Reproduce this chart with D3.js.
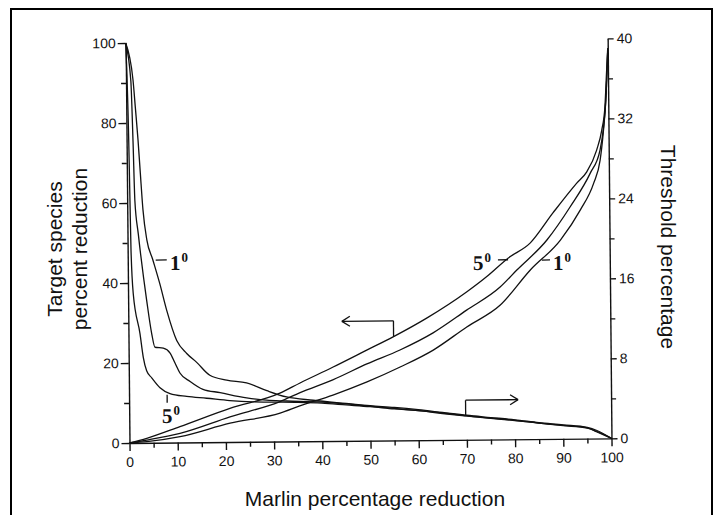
<!DOCTYPE html>
<meta charset="UTF-8">
<script src="https://cdnjs.cloudflare.com/ajax/libs/d3/7.4.4/d3.min.js"></script>
<style>
    body { margin: 0; background: #fff; }
    text { fill: #111; }
</style>
<svg id="chart" width="713" height="515"></svg>
<script>
    // ---- data ----
    const xMajor = [0, 10, 20, 30, 40, 50, 60, 70, 80, 90, 100];
    const xMinor = [5, 15, 25, 35, 45, 55, 65, 75, 85, 95];
    const leftMajor = [0, 20, 40, 60, 80, 100];
    const leftMinor = [10, 30, 50, 70, 90];
    const rightMajor = [0, 8, 16, 24, 32, 40];
    const rightMinor = [4, 12, 20, 28, 36];

    // target species percent reduction (left axis), [marlin %, value]
    const target5 = [[0, 0], [3.6, 1.13], [10.5, 3.96], [20.9, 8.4], [31.3, 12.1], [35.5, 14.6], [42.4, 18.5],
        [49.5, 22.7], [54.9, 25.9], [61.9, 30.5], [70.3, 37], [74.4, 40.7], [78.9, 45.3], [83.5, 49],
        [88.3, 56.5], [93.3, 63.9], [95.4, 66.7], [97.5, 72.1], [98.6, 77.1], [99.3, 82.9], [99.7, 91.4], [100, 97.6]];
    const targetMid = [[0, 0], [3.6, 0.7], [10.5, 2.3], [20.9, 6.3], [31.3, 10], [35.5, 12.2], [42.3, 15.3],
        [49.4, 19.2], [56.3, 22.6], [63.2, 26.8], [70.2, 32.4], [77.2, 38.1], [80.7, 42.3], [87, 49.75],
        [91.9, 58], [96.1, 66.3], [98.2, 72.1], [98.9, 77.1], [99.5, 84.6], [100, 97.2]];
    const target1 = [[0, 0], [3.6, 0.28], [10.5, 1.45], [20.9, 4.7], [31.3, 7.1], [35.4, 8.85], [42.3, 11.5],
        [49.4, 14.7], [56.3, 18.35], [63.2, 22.5], [70.2, 28.2], [77.2, 33.6], [83.5, 42.3], [89.8, 49.7],
        [94, 57.2], [96.8, 63.8], [98.2, 69.6], [98.9, 76.4], [99.5, 84.6], [100, 97.1]];

    // threshold percentage (right axis), [marlin %, value]
    const thresh1 = [[0, 40], [1.45, 36.3], [1.87, 33.6], [2.37, 30.3], [2.78, 27], [3.26, 23.3], [4, 20.3],
        [5.2, 18.3], [6.6, 15.9], [8, 13.2], [10, 10.2], [12.05, 8.9], [14.1, 8], [16.8, 6.7], [20.3, 6.2],
        [24.4, 5.9], [28.6, 5.1], [32.7, 4.45], [38.2, 4.1], [45, 3.75], [50, 3.5], [55, 3.3], [60, 3.05],
        [65, 2.75], [70, 2.45], [75, 2.2], [80, 1.95], [85, 1.65], [90, 1.4], [95, 1.12], [97, 0.8], [100, 0]];
    const threshMid = [[0, 40], [1, 36.2], [1.33, 30.2], [1.6, 24.2], [2.24, 20.9], [3.86, 14.2], [4.83, 10.9],
        [5.48, 9.55], [7.2, 9.45], [8.6, 8.95], [9.6, 7.95], [10.6, 6.95], [12.7, 6.1], [15.35, 5.3],
        [18.9, 4.95], [24.4, 4.4], [28.5, 4.15], [32.7, 4.05], [40, 3.9], [45, 3.7], [50, 3.45], [55, 3.2],
        [60, 2.95], [65, 2.7], [70, 2.4], [75, 2.15], [80, 1.9], [85, 1.6], [90, 1.35], [95, 1.08], [97, 0.65], [100, 0]];
    const thresh5 = [[0, 40], [0.44, 30.3], [0.58, 24.2], [0.7, 19.2], [1.08, 14.9], [2.4, 10.9], [3.03, 8.55],
        [3.7, 7.2], [4.74, 6.5], [6.44, 5.5], [8.5, 4.9], [11.96, 4.6], [16.1, 4.4], [20.9, 4.15], [25.7, 4.0],
        [30, 3.95], [35, 3.9], [40, 3.8], [45, 3.6], [50, 3.4], [55, 3.15], [60, 2.95], [65, 2.65], [70, 2.38],
        [75, 2.12], [80, 1.88], [85, 1.6], [90, 1.32], [95, 1.05], [97.5, 0.6], [100, 0]];

    // ---- layout ----
    let svg = d3.select("#chart");
    let pLeft = 129.5, pRight = 611.5, pTop = 43, pBottom = 443;
    let tickFont = "'Liberation Sans Narrow', 'Arial Narrow', 'Liberation Sans', Arial, sans-serif";
    let titleFont = "'Liberation Sans', Arial, sans-serif";
    let degFont = "'Liberation Serif', 'Times New Roman', serif";

    // page border (open at the bottom)
    svg.append("path")
        .attr("d", "M11,515V9H712V515")
        .style("fill", "none")
        .style("stroke", "#000")
        .style("stroke-width", 2);

    let x = d3.scaleLinear().domain([0, 100]).range([pLeft, pRight]);
    let yL = d3.scaleLinear().domain([0, 100]).range([pBottom, pTop]);
    let yR = d3.scaleLinear().domain([0, 40]).range([pBottom, pTop]);

    // the scanned figure is tilted a little
    let plot = svg.append("g").attr("transform", "rotate(-0.55," + pLeft + "," + pBottom + ")");

    function styleAxis(g) {
        g.selectAll("path, line").style("stroke", "#111").style("stroke-width", 1.4);
        g.selectAll("text").style("font-family", tickFont).style("font-size", "14px").style("fill", "#111");
    }

    plot.append("g").attr("transform", "translate(0," + pBottom + ")")
        .call(d3.axisBottom(x).tickValues(xMajor).tickSize(8).tickSizeOuter(0).tickPadding(6).tickFormat(d3.format("d")))
        .call(styleAxis);
    plot.append("g").attr("transform", "translate(0," + pBottom + ")")
        .call(d3.axisBottom(x).tickValues(xMinor).tickSize(5).tickFormat(""))
        .call(g => g.select(".domain").remove()).call(styleAxis);

    plot.append("g").attr("transform", "translate(" + pLeft + ",0)")
        .call(d3.axisLeft(yL).tickValues(leftMajor).tickSize(8).tickSizeOuter(0).tickPadding(2))
        .call(styleAxis);
    plot.append("g").attr("transform", "translate(" + pLeft + ",0)")
        .call(d3.axisLeft(yL).tickValues(leftMinor).tickSize(5).tickFormat(""))
        .call(g => g.select(".domain").remove()).call(styleAxis);

    plot.append("g").attr("transform", "translate(" + pRight + ",0)")
        .call(d3.axisRight(yR).tickValues(rightMajor).tickSize(6).tickSizeOuter(0).tickPadding(3))
        .call(styleAxis);
    plot.append("g").attr("transform", "translate(" + pRight + ",0)")
        .call(d3.axisRight(yR).tickValues(rightMinor).tickSize(5).tickFormat(""))
        .call(g => g.select(".domain").remove()).call(styleAxis);

    // curves
    let lineL = d3.line().x(d => x(d[0])).y(d => yL(d[1])).curve(d3.curveMonotoneX);
    let lineR = d3.line().x(d => x(d[0])).y(d => yR(d[1])).curve(d3.curveMonotoneX);

    [target5, targetMid, target1].forEach(function (s) {
        plot.append("path").attr("d", lineL(s))
            .style("fill", "none").style("stroke", "#111").style("stroke-width", 1.3);
    });
    [thresh1, threshMid, thresh5].forEach(function (s) {
        plot.append("path").attr("d", lineR(s))
            .style("fill", "none").style("stroke", "#111").style("stroke-width", 1.3);
    });

    function seg(x1, y1, x2, y2) {
        plot.append("line")
            .attr("x1", x1).attr("y1", y1).attr("x2", x2).attr("y2", y2)
            .style("stroke", "#111").style("stroke-width", 1.3);
    }

    // pointer arrows: which axis each bundle belongs to
    let ay = yL(29.9);
    seg(x(44.3), ay, x(55), ay);
    seg(x(55), ay, x(55), yL(25.9));
    seg(x(44.3), ay, x(44.3) + 8, ay - 5);
    seg(x(44.3), ay, x(44.3) + 8, ay + 5);

    let by = yR(3.96);
    seg(x(69.8), by, x(80.7), by);
    seg(x(69.8), by, x(69.8), yR(2.4));
    seg(x(80.7), by, x(80.7) - 8, by - 5);
    seg(x(80.7), by, x(80.7) - 8, by + 5);

    // degree labels
    function degLabel(px, py, num) {
        let t = plot.append("text")
            .attr("x", px).attr("y", py)
            .style("font-family", degFont)
            .style("font-weight", "bold")
            .style("font-size", "21px");
        t.append("tspan").text(num);
        t.append("tspan").attr("dx", 1).attr("dy", -8).style("font-size", "13px").text("0");
    }

    seg(x(5.8), yR(18.27), x(8.1), yR(18.27));
    degLabel(x(8.77), yR(17.27), "1");
    seg(x(7.9), yR(4.8), x(7.9), yR(4.0));
    degLabel(x(6.8), yR(1.97), "5");
    degLabel(x(71.6), yL(42.4), "5");
    seg(x(76.8), yL(44.9), x(78.9), yL(44.9));
    seg(x(85.9), yL(44.75), x(87.6), yL(44.75));
    degLabel(x(88.2), yL(42.25), "1");

    // axis titles
    svg.append("text")
        .attr("x", 375).attr("y", 506)
        .style("font-family", titleFont).style("font-size", "21px")
        .style("text-anchor", "middle")
        .text("Marlin percentage reduction");
    svg.append("text")
        .attr("transform", "translate(62,249) rotate(-90)")
        .style("font-family", titleFont).style("font-size", "21px")
        .style("text-anchor", "middle")
        .text("Target species");
    svg.append("text")
        .attr("transform", "translate(87,249) rotate(-90)")
        .style("font-family", titleFont).style("font-size", "21px")
        .style("text-anchor", "middle")
        .text("percent reduction");
    svg.append("text")
        .attr("transform", "translate(661,247) rotate(90)")
        .style("font-family", titleFont).style("font-size", "21px")
        .style("text-anchor", "middle")
        .text("Threshold percentage");
</script>
